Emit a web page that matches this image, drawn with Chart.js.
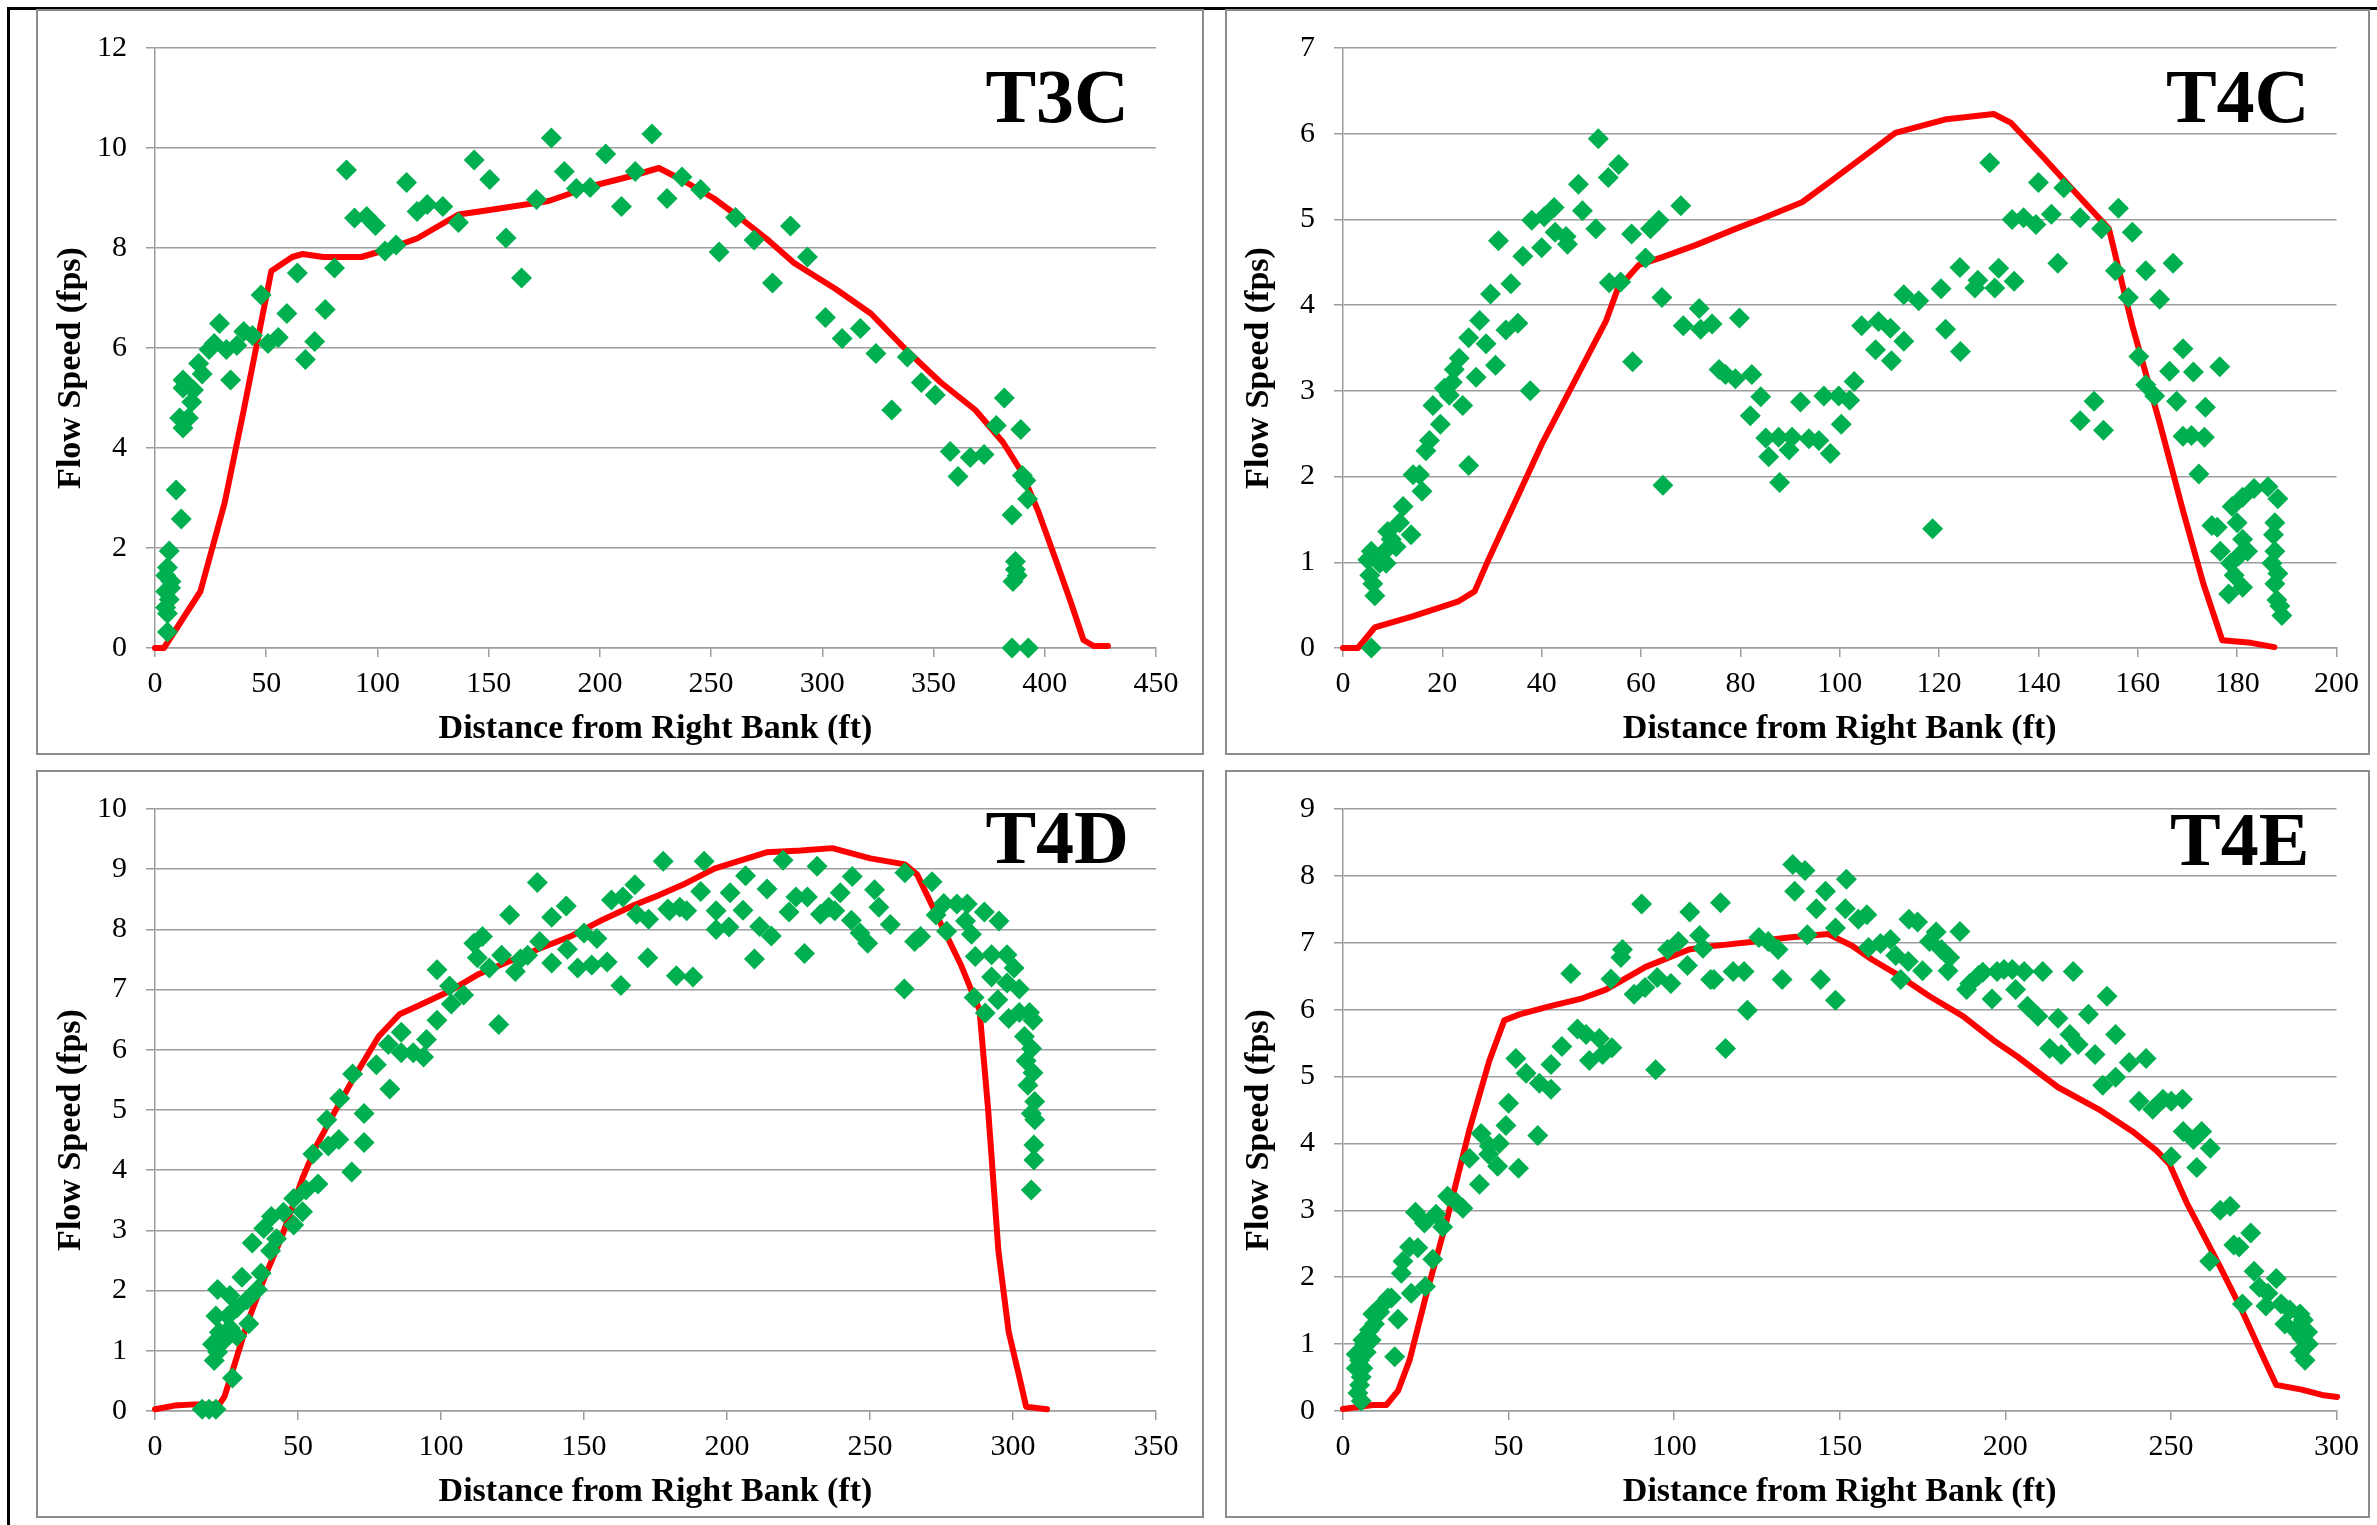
<!DOCTYPE html>
<html>
<head>
<meta charset="utf-8">
<script src="https://cdn.jsdelivr.net/npm/chart.js@4.4.1/dist/chart.umd.min.js"></script>
<style>
  html, body { margin: 0; padding: 0; background: #fff; }
  #page { position: relative; width: 2377px; height: 1525px; background: #fff; overflow: hidden; }
  #frame { position: absolute; left: 7px; top: 7px; width: 2377px; height: 1525px; border-left: 3px solid #000; border-top: 3px solid #000; }
  .panel { position: absolute; border: 2px solid #8c8c8c; box-sizing: border-box; }
  canvas { position: absolute; }
</style>
</head>
<body>
<div id="page">
  <div id="frame"></div>
  <div class="panel" style="left:36px;top:9px;width:1168px;height:746px"></div>
  <div class="panel" style="left:1225px;top:9px;width:1145px;height:746px"></div>
  <div class="panel" style="left:36px;top:770px;width:1168px;height:748px"></div>
  <div class="panel" style="left:1225px;top:770px;width:1145px;height:748px"></div>
  <canvas id="Chart-t3c" width="1164" height="742" style="left:38px;top:11px"></canvas>
  <canvas id="Chart-t4c" width="1141" height="742" style="left:1227px;top:11px"></canvas>
  <canvas id="Chart-t4d" width="1164" height="744" style="left:38px;top:772px"></canvas>
  <canvas id="Chart-t4e" width="1141" height="744" style="left:1227px;top:772px"></canvas>
</div>
<script>
// ---- T3C ----
var t3cMeasured = [[5.6,0.32],[6.4,1.94],[5.6,1.61],[4.8,1.45],[7.2,1.33],[4.8,1.13],[6.4,0.97],[4.8,0.81],[5.6,0.69],[7.0,1.2],
  [9.5,3.16],[11.8,2.58],[12.6,4.4],[11.1,4.6],[15,4.6],[16.5,4.92],[12.6,5.2],[12.6,5.36],[17.3,5.16],[19.6,5.69],
  [21.2,5.48],[24.3,5.97],[26.6,6.09],[29,6.49],[32.1,5.97],[34,5.36],[36.8,6.05],[39.9,6.33],[43.8,6.25],[47.7,7.06],
  [50.8,6.09],[55.4,6.21],[59.3,6.69],[64,7.5],[67.6,5.77],[71.8,6.13],[76.5,6.77],[80.7,7.6],[86.1,9.56],[89.7,8.6],
  [95.2,8.63],[99.1,8.45],[103.4,7.94],[108.4,8.06],[113.1,9.31],[117.8,8.73],[122.4,8.87],[129.4,8.83],[136.4,8.51],[143.5,9.76],
  [150.5,9.37],[157.8,8.2],[164.8,7.4],[171.5,8.97],[178.2,10.2],[184,9.53],[189.4,9.19],[195.6,9.21],[202.6,9.88],[209.7,8.83],
  [215.9,9.53],[223.4,10.28],[230.2,8.99],[236.9,9.42],[245.3,9.17],[253.6,7.92],[261,8.61],[269.3,8.16],[277.6,7.3],[285.7,8.44],
  [293.3,7.82],[301.4,6.61],[308.9,6.19],[317.1,6.39],[324.1,5.89],[331.2,4.76],[338.2,5.82],[344.5,5.31],[350.8,5.06],[357.5,3.93],
  [361,3.43],[366.5,3.81],[372.7,3.87],[378.2,4.45],[381.8,5.0],[389.2,4.37],[385.3,2.66],[389.9,3.45],[391.5,3.35],[392.3,2.98],
  [386.8,1.73],[386.8,1.57],[385.7,1.33],[387.6,1.45],[385.3,0],[392.6,0]];
var t3cModel = [[0,0],[4,0],[20.4,1.13],[31.3,2.9],[39.9,4.76],[52.3,7.54],[61.7,7.82],[66.4,7.88],[75.7,7.82],[92.8,7.82],
  [102,7.94],[117.8,8.19],[136.4,8.67],[148.9,8.75],[177,8.94],[188,9.11],[195.6,9.23],[214.3,9.44],[226.5,9.6],[237.4,9.35],
  [251.3,8.99],[262.2,8.63],[274.8,8.19],[287.3,7.7],[306,7.18],[321.8,6.69],[337.5,5.97],[353,5.32],[368.8,4.76],[381.3,4.11],
  [389.2,3.55],[397,2.74],[404.9,1.77],[411.9,0.89],[417.4,0.16],[422,0.04],[428.4,0.04]];

// ---- T4C ----
var t4cMeasured = [[5.7,0],[6.4,0.61],[6,0.75],[5.4,0.85],[5,1.03],[5.7,1.13],[7.4,0.99],[8.7,0.99],[8.4,1.13],[9.7,1.27],
  [9,1.36],[10.7,1.18],[11.4,1.46],[12.1,1.65],[13.7,1.32],[15.4,2.02],[14.1,2.02],[15.9,1.83],[16.7,2.3],[17.4,2.42],
  [19.6,2.61],[18.1,2.83],[20.4,3.03],[21.4,2.95],[22,3.1],[22.4,3.25],[23.4,3.38],[24.1,2.83],[25.3,2.13],[26.8,3.16],
  [28.8,3.55],[30.7,3.3],[25.3,3.62],[27.5,3.82],[32.8,3.71],[35.2,3.79],[37.7,3.0],[29.7,4.13],[33.8,4.25],[31.3,4.75],
  [36.2,4.57],[40,4.67],[38,4.99],[40.5,5.03],[42.5,5.14],[42.7,4.85],[44.9,4.8],[45.2,4.71],[47.4,5.41],[48.2,5.1],
  [50.9,4.89],[51.4,5.94],[53.4,5.49],[55.5,5.64],[53.6,4.26],[55.9,4.27],[58.1,4.83],[60.9,4.55],[61.9,4.89],[63.6,4.99],
  [68,5.16],[58.3,3.34],[64.2,4.09],[64.4,1.9],[68.5,3.76],[71.7,3.96],[72,3.72],[74.3,3.78],[79.8,3.85],[75.7,3.25],
  [77,3.19],[79,3.14],[82.3,3.19],[84.1,2.93],[82,2.71],[85.1,2.45],[87.7,2.46],[89.8,2.31],[85.7,2.23],[87.9,1.93],
  [92.1,2.87],[90.4,2.46],[93.8,2.44],[95.8,2.42],[98.1,2.27],[96.8,2.94],[99.8,2.94],[100.3,2.61],[102,2.89],[102.9,3.11],
  [104.4,3.76],[107.2,3.48],[107.8,3.81],[110.2,3.73],[110.4,3.35],[112.9,3.58],[112.9,4.12],[115.9,4.05],[118.7,1.39],[120.4,4.19],
  [121.3,3.72],[124.3,3.46],[124.2,4.44],[127.2,4.2],[127.8,4.29],[131.2,4.2],[132,4.43],[135.1,4.28],[130.2,5.66],[134.7,5.0],
  [137,5.02],[139.5,4.94],[140,5.43],[142.6,5.06],[143.9,4.49],[145.1,5.37],[148.4,5.02],[152.7,4.89],[156.1,5.13],[158.9,4.85],
  [155.5,4.4],[158.1,4.09],[161.6,4.4],[167.1,4.49],[164.4,4.07],[148.4,2.65],[151.2,2.88],[153.1,2.54],[160.2,3.4],[161.6,3.07],
  [163.4,2.94],[166.4,3.23],[169.1,3.49],[171.2,3.22],[176.5,3.28],[167.8,2.88],[173.6,2.81],[169.1,2.47],[170.8,2.48],[173.4,2.46],
  [172.3,2.03],[174.9,1.43],[176,1.41],[176.6,1.13],[179,1.65],[181.1,1.76],[183.4,1.86],[186.2,1.88],[188.2,1.74],[180,1.46],
  [181.1,1.27],[180.4,1.08],[182.1,1.13],[178.7,0.99],[179.4,0.85],[181.1,0.71],[178.3,0.63],[187.6,1.46],[187.3,1.32],[187.6,1.13],
  [187,0.99],[188.2,0.87],[187.6,0.75],[188,0.56],[188.6,0.49],[189,0.38]];
var t4cModel = [[0,0],[3,0],[6.4,0.24],[14,0.37],[19.4,0.47],[23.1,0.54],[26.5,0.66],[29.5,1.06],[40.2,2.4],[52.9,3.81],
  [55.3,4.19],[59.6,4.47],[64.3,4.56],[71,4.7],[79,4.89],[84.4,5.01],[92.4,5.2],[97.8,5.43],[111.2,6.01],[121.5,6.17],
  [131,6.23],[134.4,6.13],[141.2,5.71],[146.7,5.36],[154.2,4.89],[158.9,3.76],[164.4,2.63],[169.1,1.6],[173.2,0.75],[177,0.09],
  [182.8,0.06],[187.5,0.01]];

// ---- T4D ----
var t4dMeasured = [[16.5,0.03],[18.9,0.03],[21.3,0.03],[27.1,0.55],[20.7,0.84],[21.9,0.98],[20.1,1.11],[24.3,1.18],[22.5,1.31],[26.2,1.38],
  [21.3,1.58],[28.6,1.24],[25.5,1.58],[21.9,2.02],[26.2,1.92],[28.6,1.71],[30.4,2.22],[32.8,1.45],[32.2,1.85],[35.8,2.02],
  [37.1,2.29],[34,2.79],[40.4,2.66],[38,3.03],[40.7,3.23],[44.9,3.3],[42.5,2.86],[48.5,3.09],[48.5,3.53],[51.6,3.31],
  [52.8,3.67],[57,3.77],[55.2,4.27],[60.6,4.4],[64.3,4.51],[68.8,3.97],[60.1,4.84],[64.6,5.19],[73.1,4.94],[73.1,4.46],
  [69.1,5.6],[77.4,5.75],[82.1,5.35],[81.6,6.09],[86.1,6.29],[86.1,5.95],[90.3,5.95],[93.9,5.88],[94.9,6.17],[98.6,6.49],
  [98.6,7.33],[103,7.06],[103.6,6.76],[107.9,6.91],[111.5,7.77],[114.5,7.88],[112.7,7.53],[116.9,7.36],[120.2,6.42],[121.2,7.57],
  [124,8.24],[126,7.3],[127.8,7.51],[130.3,7.57],[133.7,8.78],[134.5,7.8],[138.7,8.2],[138.7,7.44],[143.8,8.39],[144.2,7.67],
  [147.8,7.36],[150,7.94],[152.7,7.41],[154.5,7.85],[158.1,7.46],[159.6,8.49],[163.6,8.54],[167.8,8.74],[168.4,8.25],[172.6,8.17],
  [162.9,7.07],[172.3,7.53],[177.7,9.13],[179.3,8.34],[182.3,7.23],[183.5,8.37],[179.9,8.31],[188.1,7.21],[185.9,8.31],[192,9.13],
  [190.8,8.63],[196.2,8.31],[196.2,8.0],[200.7,8.04],[201.1,8.61],[205.6,8.32],[206.5,8.89],[209.6,7.51],[211.4,8.05],[214,8.67],
  [215.5,7.89],[219.6,9.15],[221.7,8.29],[224.1,8.54],[227.1,7.6],[228.1,8.54],[231.5,9.05],[232.7,8.25],[235.6,8.37],[237.7,8.31],
  [239.6,8.61],[243.8,8.88],[243.5,8.15],[246.5,7.94],[249.2,7.77],[251.6,8.66],[253.1,8.37],[257.1,8.08],[262,7.01],[262.2,8.94],
  [265.6,7.8],[267.7,7.88],[271.7,8.79],[273.1,8.24],[276.8,7.97],[275.8,8.43],[280.4,8.42],[284,8.42],[283.4,8.14],[285.5,7.92],
  [290,8.29],[295.1,8.14],[286.8,7.55],[292.5,7.58],[297.9,7.58],[300.4,7.36],[292.5,7.21],[297.9,7.11],[302.2,7.01],[286.4,6.87],
  [290.3,6.61],[294.7,6.83],[298.5,6.52],[302.2,6.62],[305.8,6.62],[307,6.49],[304,6.22],[306.5,6.02],[304.6,5.82],[307,5.62],
  [305.2,5.41],[307.6,5.14],[306.4,4.94],[307.6,4.84],[307.3,4.42],[307.3,4.17],[306.4,3.67]];
var t4dModel = [[0,0.03],[6.8,0.09],[14,0.11],[22.5,0.11],[24.3,0.24],[27.4,0.71],[32.2,1.45],[38.3,2.22],[44.3,2.89],[51.6,3.87],
  [56.4,4.4],[62.5,4.94],[69.7,5.55],[78.2,6.22],[85.5,6.59],[91.5,6.72],[103.6,6.99],[113.3,7.26],[121.8,7.43],[133.9,7.67],
  [146,7.9],[156.9,8.17],[167.8,8.41],[176.3,8.57],[184.5,8.74],[195.6,9.01],[213.8,9.28],[225.9,9.31],[236.8,9.35],[250.1,9.18],
  [262.2,9.08],[266.5,8.91],[274.3,8.14],[281.6,7.43],[288.3,6.66],[291.3,5.01],[294.9,2.66],[298.5,1.31],[302.2,0.57],[304.6,0.07],
  [311.9,0.03]];

// ---- T4E ----
var t4eMeasured = [[5.5,0.15],[4.5,0.27],[5,0.39],[5.5,0.51],[4,0.64],[6,0.64],[5,0.76],[4,0.85],[7,0.88],[6.5,1.0],
  [8.5,1.06],[8,1.21],[6,1.06],[9.5,1.3],[9,1.45],[11.1,1.48],[12.1,1.6],[13.6,1.69],[16.6,1.37],[15.6,0.81],
  [14.6,1.69],[17.6,2.06],[20.6,1.76],[18.1,2.24],[20.1,2.45],[22.6,2.44],[27.1,2.27],[24.9,1.86],[21.9,2.97],[24.6,2.81],
  [28.1,2.94],[31.6,3.21],[34.2,3.12],[36.2,3.03],[30.1,2.75],[38.2,3.78],[41.2,3.39],[41.7,4.15],[44.2,3.96],[47.2,4.0],
  [44,3.84],[46.7,3.66],[53,3.63],[49.2,4.27],[50,4.6],[58.8,4.12],[52.2,5.27],[55.3,5.05],[59.3,4.9],[62.8,4.81],
  [62.8,5.18],[66.1,5.45],[70.8,5.71],[73.4,5.63],[77.4,5.57],[74.4,5.24],[78.4,5.33],[81.2,5.43],[68.8,6.54],[80.9,6.46],
  [84.4,6.9],[83.9,6.78],[87.9,6.23],[91.2,6.33],[90.2,7.58],[94.4,5.1],[94.9,6.48],[99,6.39],[98,6.9],[101.3,7.02],
  [104,6.66],[104.7,7.46],[107.7,7.11],[108.7,6.92],[111,6.45],[112,6.45],[114,7.6],[115.5,5.42],[117.8,6.57],[121.1,6.57],
  [122.1,5.99],[125.6,7.08],[128.4,7.02],[131.4,6.9],[132.6,6.45],[135.8,8.17],[139.5,8.08],[136.4,7.77],[140.2,7.12],[142.9,7.51],
  [144.2,6.45],[145.7,7.77],[148.7,7.22],[148.7,6.14],[152,7.95],[151.7,7.51],[155.6,7.35],[158.2,7.42],[158.7,6.93],[162.3,6.99],
  [165.3,7.05],[166.9,6.81],[170.7,6.72],[168.4,6.45],[170.9,7.35],[173.5,7.31],[175,6.58],[177.1,7.02],[179.1,7.16],[180.7,6.9],
  [183.2,6.78],[182.7,6.58],[186.3,7.17],[188.3,6.3],[189.3,6.39],[191.9,6.51],[193.2,6.56],[196,6.16],[197.5,6.57],[199.6,6.6],
  [202.1,6.6],[203.1,6.3],[205.7,6.57],[211.3,6.57],[206.7,6.05],[209.8,5.9],[215.9,5.87],[213.4,5.42],[216.9,5.33],[219.5,5.63],
  [222,5.48],[225.1,5.93],[227.1,5.33],[220.5,6.57],[230.7,6.2],[233.3,5.63],[229.4,4.87],[233.3,4.99],[237.4,5.21],[242.5,5.27],
  [240.4,4.63],[244.5,4.51],[247.6,4.66],[250.1,4.63],[253.5,4.66],[253.7,4.18],[256.8,4.06],[259.3,4.18],[261.9,3.93],[250.1,3.8],
  [257.8,3.64],[264.9,3.0],[267.9,3.06],[274.1,2.66],[269,2.48],[270.6,2.45],[261.7,2.24],[275.1,2.09],[281.8,1.98],[276.7,1.85],
  [279.3,1.76],[271.6,1.6],[278.7,1.57],[283.3,1.6],[285.9,1.51],[289,1.45],[290,1.36],[284.4,1.3],[287.5,1.21],[291.3,1.18],
  [289.5,1.09],[291.5,1.0],[289,0.88],[290.5,0.76]];
var t4eModel = [[0,0.03],[9,0.09],[13.1,0.09],[16.6,0.3],[20.1,0.76],[25.1,1.73],[31.1,2.81],[38.2,4.21],[44.2,5.24],[48.7,5.84],
  [53.3,5.93],[62.3,6.05],[72.3,6.17],[79.4,6.3],[91.4,6.64],[104.5,6.9],[111.5,6.95],[124.6,7.02],[134.6,7.08],[146.5,7.13],
  [153.6,6.96],[159.7,6.75],[166.9,6.54],[177.1,6.2],[187.3,5.9],[196.5,5.54],[203.6,5.3],[215.9,4.84],[228.2,4.51],[238.4,4.18],
  [245.5,3.9],[249.6,3.69],[254.7,3.12],[264.9,2.15],[271.1,1.54],[277.2,0.88],[281.8,0.39],[289.5,0.32],[295.6,0.24],[300.2,0.21]];

var xTitle = 'Distance from Right Bank (ft)';
var yTitle = 'Flow Speed (fps)';

var GRID = '#9d9d9d';
Chart.defaults.font.family = '"Liberation Serif", "Times New Roman", serif';
Chart.defaults.color = '#000';

// station name in the top right corner + y axis title (sits a bit below the plot centre, like Excel)
var panelText = {
  id: 'panelText',
  afterDraw: function(chart, args, opts) {
    var ctx = chart.ctx;
    var area = chart.chartArea;
    ctx.save();
    ctx.fillStyle = '#000';
    ctx.font = 'bold 76px "Liberation Serif"';
    ctx.textAlign = 'right';
    ctx.textBaseline = 'alphabetic';
    ctx.fillText(opts.text, area.right - 27, area.top + opts.dy);

    ctx.font = 'bold 34px "Liberation Serif"';
    ctx.textAlign = 'center';
    ctx.textBaseline = 'middle';
    ctx.translate(opts.titleX, (area.top + area.bottom) / 2 + 20);
    ctx.rotate(-Math.PI / 2);
    ctx.fillText(yTitle, 0, 0);
    ctx.restore();
  }
};

function toXY(list) {
  return list.map(function(p) { return {x: p[0], y: p[1]}; });
}

// plot = chart area in canvas pixels: left, top, right, bottom
function chart_panel(id, name, labelDy, measured, model, xMax, xStep, yMax, plot) {
  var canvas = document.getElementById(id);
  var ctx = canvas.getContext('2d');
  new Chart(ctx, {
    type: 'scatter',
    data: {
      datasets: [{
          data: toXY(measured),
          pointStyle: 'rectRot',
          pointRadius: 10.5,
          pointHoverRadius: 10.5,
          backgroundColor: '#00b050',
          borderColor: '#00b050',
          borderWidth: 0,
          clip: false
        },
        {
          data: toXY(model),
          showLine: true,
          borderColor: '#ff0000',
          borderWidth: 6,
          borderJoinStyle: 'round',
          borderCapStyle: 'round',
          pointRadius: 0,
          tension: 0,
          clip: false
        }
      ]
    },
    plugins: [panelText],
    options: {
      responsive: false,
      animation: false,
      events: [],
      layout: {
        padding: {left: 0, top: plot[1], right: canvas.width - plot[2], bottom: 0}
      },
      plugins: {
        legend: { display: false },
        tooltip: { enabled: false },
        panelText: { text: name, dy: labelDy, titleX: plot[0] - 84 }
      },
      scales: {
        x: {
          type: 'linear',
          min: 0,
          max: xMax,
          afterFit: function(scale) { scale.height = canvas.height - plot[3]; },
          ticks: {
            stepSize: xStep,
            padding: 9,
            font: { size: 30 },
            maxRotation: 0
          },
          grid: {
            drawOnChartArea: false,
            tickLength: 9,
            color: GRID,
            lineWidth: 1.5
          },
          border: { color: GRID, width: 1.5 },
          title: {
            display: true,
            text: xTitle,
            font: { size: 34, weight: 'bold' },
            padding: { top: 0, bottom: 3 }
          }
        },
        y: {
          min: 0,
          max: yMax,
          afterFit: function(scale) { scale.width = plot[0]; },
          ticks: {
            stepSize: yMax > 10 ? 2 : 1,
            padding: 19,
            font: { size: 30 }
          },
          grid: {
            tickLength: 9,
            color: GRID,
            lineWidth: 1.5
          },
          border: { color: GRID, width: 1.5 },
          title: { display: false }
        }
      }
    }
  });
}

chart_panel('Chart-t3c', 'T3C', 74, t3cMeasured, t3cModel, 450, 50, 12, [117, 31, 1118, 637]);
chart_panel('Chart-t4c', 'T4C', 74, t4cMeasured, t4cModel, 200, 20, 7, [116, 31, 1112, 637]);
chart_panel('Chart-t4d', 'T4D', 54, t4dMeasured, t4dModel, 350, 50, 10, [117, 32, 1118, 639]);
chart_panel('Chart-t4e', 'T4E', 56, t4eMeasured, t4eModel, 300, 50, 9, [116, 32, 1112, 639]);
</script>
</body>
</html>
